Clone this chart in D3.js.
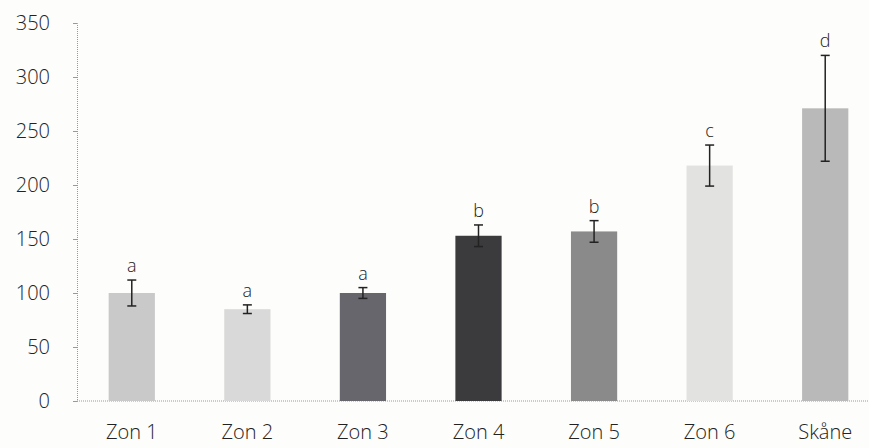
<!DOCTYPE html>
<html><head><meta charset="utf-8">
<script src="https://cdn.jsdelivr.net/npm/d3@7"></script>
<style>body{margin:0;background:#fdfdfb;} svg{display:block;}</style>
</head><body>
<script>
const categories = ["Zon 1","Zon 2","Zon 3","Zon 4","Zon 5","Zon 6","Skåne"];
const values = [100, 85, 100, 153, 157, 218, 271];
const errors = [12, 4, 5, 10, 10, 19, 49];
const letters = ["a","a","a","b","b","c","d"];
const colors = ["#c9c9c9","#d9d9d9","#67666c","#3b3b3d","#8a8a8a","#e2e2e0","#b9b9b9"];
const yTicks = [0,50,100,150,200,250,300,350];

const W = 869, H = 448;
const svg = d3.select("body").append("svg").attr("width", W).attr("height", H);
svg.append("rect").attr("width", W).attr("height", H).attr("fill", "#fdfdfb");

const x = d3.scaleBand().domain(categories).range([74, 883]).paddingInner(0.6).paddingOuter(0.3);
const y = d3.scaleLinear().domain([0, 350]).range([401, 23]);

const font = "'Open Sans', sans-serif";

// y axis
const yAxis = d3.axisLeft(y).tickValues(yTicks).tickSize(4).tickPadding(23);
const gy = svg.append("g").attr("transform", "translate(77,0)").call(yAxis);
gy.select(".domain").attr("stroke", "#999").attr("stroke-dasharray", "1,1");
gy.selectAll(".tick line").attr("stroke", "#999");
gy.selectAll("text").attr("font-family", font).attr("font-weight", 300).attr("font-size", 20).attr("fill", "#222");

// x baseline
const xAxis = d3.axisBottom(x).tickSize(0).tickPadding(24);
const gx = svg.append("g").attr("transform", "translate(0,401)").call(xAxis);
gx.select(".domain").attr("d", `M77,0H869`).attr("stroke", "#999").attr("stroke-dasharray", "1,1");
gx.selectAll("text").attr("font-family", font).attr("font-weight", 300).attr("font-size", 20).attr("fill", "#222");

// bars
svg.append("g").selectAll("rect").data(categories).join("rect")
  .attr("x", d => x(d)).attr("width", x.bandwidth())
  .attr("y", (d,i) => y(values[i])).attr("height", (d,i) => y(0) - y(values[i]))
  .attr("fill", (d,i) => colors[i]);

// error bars
const eg = svg.append("g").attr("stroke", "#222").attr("stroke-width", 1.5);
categories.forEach((c,i) => {
  const cx = x(c) + x.bandwidth()/2;
  const t = y(values[i] + errors[i]), b = y(values[i] - errors[i]);
  eg.append("line").attr("x1", cx).attr("x2", cx).attr("y1", t).attr("y2", b);
  eg.append("line").attr("x1", cx-4.5).attr("x2", cx+4.5).attr("y1", t).attr("y2", t);
  eg.append("line").attr("x1", cx-4.5).attr("x2", cx+4.5).attr("y1", b).attr("y2", b);
});

// letters
svg.append("g").selectAll("text").data(categories).join("text")
  .attr("x", d => x(d) + x.bandwidth()/2)
  .attr("y", (d,i) => y(values[i] + errors[i]) - 8)
  .attr("text-anchor", "middle")
  .attr("font-family", font).attr("font-weight", 300).attr("font-size", 18).attr("fill", "#222")
  .text((d,i) => letters[i]);
</script>
</body></html>
